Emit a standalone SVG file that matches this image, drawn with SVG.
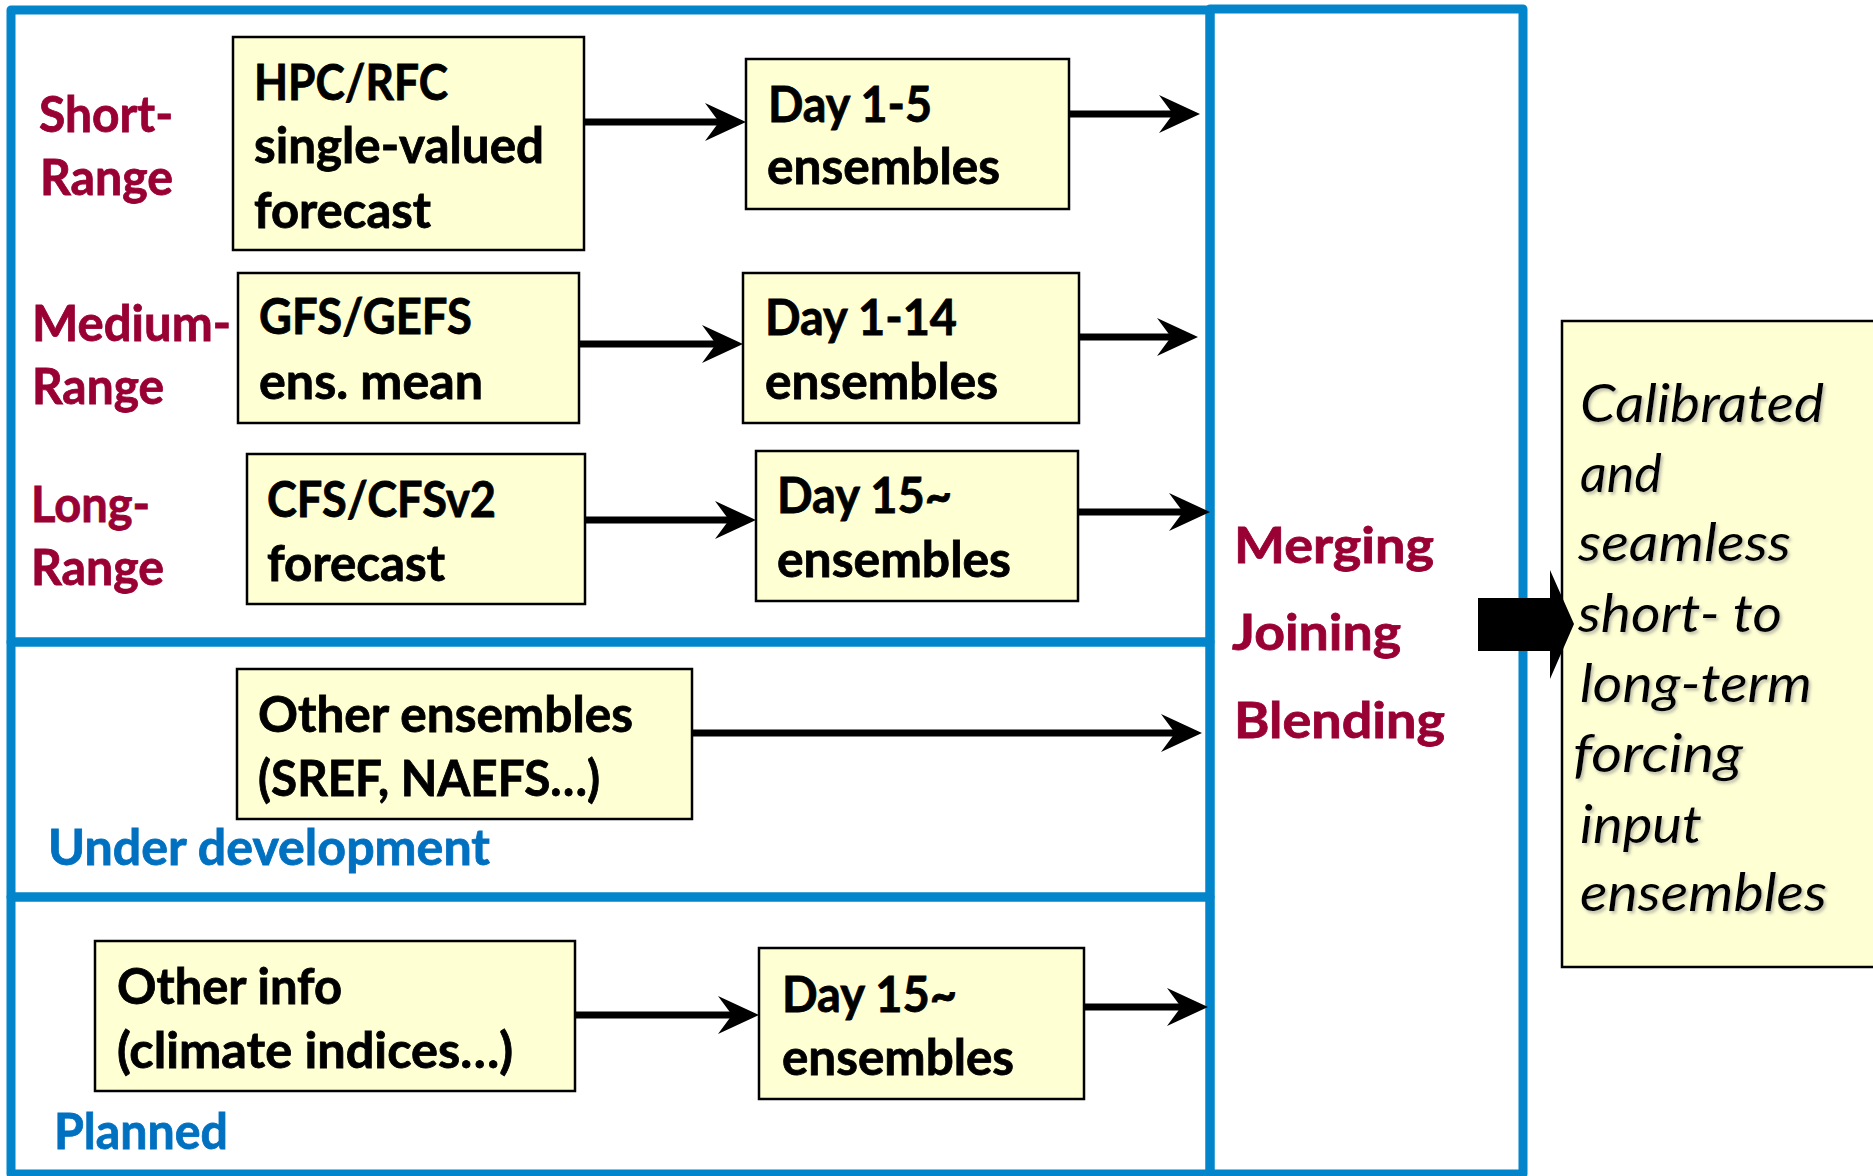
<svg xmlns="http://www.w3.org/2000/svg" width="1873" height="1176" viewBox="0 0 1873 1176">
<defs>
<style>
.panel{fill:none;stroke:#0385CC;stroke-width:9;stroke-linejoin:round}
.box{fill:#FFFFD4;stroke:#000;stroke-width:2.5}
.t{font-family:Lato,"Liberation Sans",sans-serif;font-weight:bold;font-size:49px;fill:#000;stroke:#000;stroke-width:0.8}
.red{fill:#990033;stroke:#990033}
.blue{fill:#0070C0;stroke:#0070C0}
.it{font-family:Lato,"Liberation Sans",sans-serif;font-style:italic;font-size:52px;fill:#000;filter:url(#sh)}
.ln{stroke:#000;stroke-width:7;fill:none;marker-end:url(#ah)}
</style>
<marker id="ah" markerUnits="userSpaceOnUse" viewBox="-42 -21 44 42" markerWidth="44" markerHeight="42" refX="-21" refY="0" orient="auto">
<path d="M0,0 L-41,-19 L-27,0 L-41,19 Z" fill="#000"/>
</marker>
<filter id="sh" x="-10%" y="-30%" width="130%" height="170%">
<feDropShadow dx="2" dy="2.5" stdDeviation="1.5" flood-color="#888" flood-opacity="0.55"/>
</filter>
</defs>

<g id="panels">
<rect id="panel-operational" class="panel" x="11" y="10" width="1199" height="632"/>
<rect id="panel-under-development" class="panel" x="11" y="642" width="1199" height="255"/>
<rect id="panel-planned" class="panel" x="11" y="897" width="1199" height="277"/>
<rect id="panel-merging" class="panel" x="1210" y="9" width="313" height="1165"/>
</g>

<g id="labels">
<text class="t red" x="39" y="132" textLength="134" lengthAdjust="spacingAndGlyphs">Short-</text>
<text class="t red" x="40" y="195" textLength="133" lengthAdjust="spacingAndGlyphs">Range</text>
<text class="t red" x="32" y="341" textLength="199" lengthAdjust="spacingAndGlyphs">Medium-</text>
<text class="t red" x="32" y="404" textLength="132" lengthAdjust="spacingAndGlyphs">Range</text>
<text class="t red" x="31" y="522" textLength="119" lengthAdjust="spacingAndGlyphs">Long-</text>
<text class="t red" x="31" y="585" textLength="133" lengthAdjust="spacingAndGlyphs">Range</text>
<text class="t blue" x="48" y="865" textLength="442" lengthAdjust="spacingAndGlyphs">Under development</text>
<text class="t blue" x="54" y="1149" textLength="174" lengthAdjust="spacingAndGlyphs">Planned</text>
</g>

<g id="merging">
<text class="t red" x="1234" y="563" textLength="200" lengthAdjust="spacingAndGlyphs">Merging</text>
<text class="t red" x="1232" y="650" textLength="169" lengthAdjust="spacingAndGlyphs">Joining</text>
<text class="t red" x="1234" y="738" textLength="211" lengthAdjust="spacingAndGlyphs">Blending</text>
</g>

<g id="node-hpc">
<rect class="box" x="233" y="37" width="351" height="213"/>
<text class="t" x="254" y="100" textLength="194" lengthAdjust="spacingAndGlyphs">HPC/RFC</text>
<text class="t" x="254" y="163" textLength="290" lengthAdjust="spacingAndGlyphs">single-valued</text>
<text class="t" x="254" y="228" textLength="177" lengthAdjust="spacingAndGlyphs">forecast</text>
</g>

<g id="node-gfs">
<rect class="box" x="238" y="273" width="341" height="150"/>
<text class="t" x="259" y="334" textLength="213" lengthAdjust="spacingAndGlyphs">GFS/GEFS</text>
<text class="t" x="259" y="399" textLength="224" lengthAdjust="spacingAndGlyphs">ens. mean</text>
</g>

<g id="node-cfs">
<rect class="box" x="247" y="454" width="338" height="150"/>
<text class="t" x="267" y="517" textLength="229" lengthAdjust="spacingAndGlyphs">CFS/CFSv2</text>
<text class="t" x="267" y="581" textLength="178" lengthAdjust="spacingAndGlyphs">forecast</text>
</g>

<g id="node-day1-5">
<rect class="box" x="746" y="59" width="323" height="150"/>
<text class="t" x="768" y="122" textLength="164" lengthAdjust="spacingAndGlyphs">Day 1-5</text>
<text class="t" x="767" y="184" textLength="233" lengthAdjust="spacingAndGlyphs">ensembles</text>
</g>

<g id="node-day1-14">
<rect class="box" x="743" y="273" width="336" height="150"/>
<text class="t" x="765" y="335" textLength="192" lengthAdjust="spacingAndGlyphs">Day 1-14</text>
<text class="t" x="765" y="399" textLength="233" lengthAdjust="spacingAndGlyphs">ensembles</text>
</g>

<g id="node-day15-long">
<rect class="box" x="756" y="451" width="322" height="150"/>
<text class="t" x="777" y="513" textLength="175" lengthAdjust="spacingAndGlyphs">Day 15~</text>
<text class="t" x="777" y="577" textLength="234" lengthAdjust="spacingAndGlyphs">ensembles</text>
</g>

<g id="node-other-ensembles">
<rect class="box" x="237" y="669" width="455" height="150"/>
<text class="t" x="258" y="732" textLength="375" lengthAdjust="spacingAndGlyphs">Other ensembles</text>
<text class="t" x="258" y="796" textLength="342" lengthAdjust="spacingAndGlyphs">(SREF, NAEFS…)</text>
</g>

<g id="node-other-info">
<rect class="box" x="95" y="941" width="480" height="150"/>
<text class="t" x="117" y="1004" textLength="225" lengthAdjust="spacingAndGlyphs">Other info</text>
<text class="t" x="117" y="1068" textLength="396" lengthAdjust="spacingAndGlyphs">(climate indices…)</text>
</g>

<g id="node-day15-planned">
<rect class="box" x="759" y="948" width="325" height="151"/>
<text class="t" x="782" y="1012" textLength="175" lengthAdjust="spacingAndGlyphs">Day 15~</text>
<text class="t" x="782" y="1075" textLength="232" lengthAdjust="spacingAndGlyphs">ensembles</text>
</g>

<g id="node-output">
<rect class="box" x="1562" y="321" width="330" height="646"/>
<text class="it" x="1580" y="422" textLength="244" lengthAdjust="spacingAndGlyphs">Calibrated</text>
<text class="it" x="1580" y="492" textLength="82" lengthAdjust="spacingAndGlyphs">and</text>
<text class="it" x="1578" y="561" textLength="213" lengthAdjust="spacingAndGlyphs">seamless</text>
<text class="it" x="1578" y="632" textLength="204" lengthAdjust="spacingAndGlyphs">short- to</text>
<text class="it" x="1580" y="702" textLength="232" lengthAdjust="spacingAndGlyphs">long-term</text>
<text class="it" x="1573" y="772" textLength="170" lengthAdjust="spacingAndGlyphs">forcing</text>
<text class="it" x="1580" y="843" textLength="122" lengthAdjust="spacingAndGlyphs">input</text>
<text class="it" x="1580" y="911" textLength="247" lengthAdjust="spacingAndGlyphs">ensembles</text>
</g>

<g id="connectors">
<path class="ln" d="M584,122 H725"/>
<path class="ln" d="M1069,114 H1179"/>
<path class="ln" d="M579,344 H722"/>
<path class="ln" d="M1079,337 H1177"/>
<path class="ln" d="M585,520 H735"/>
<path class="ln" d="M1078,512 H1189"/>
<path class="ln" d="M692,733 H1181"/>
<path class="ln" d="M575,1015 H738"/>
<path class="ln" d="M1084,1007 H1187"/>
<polygon points="1478,598 1550,598 1550,570 1574,624 1550,679 1550,651 1478,651" fill="#000"/>
</g>
</svg>
